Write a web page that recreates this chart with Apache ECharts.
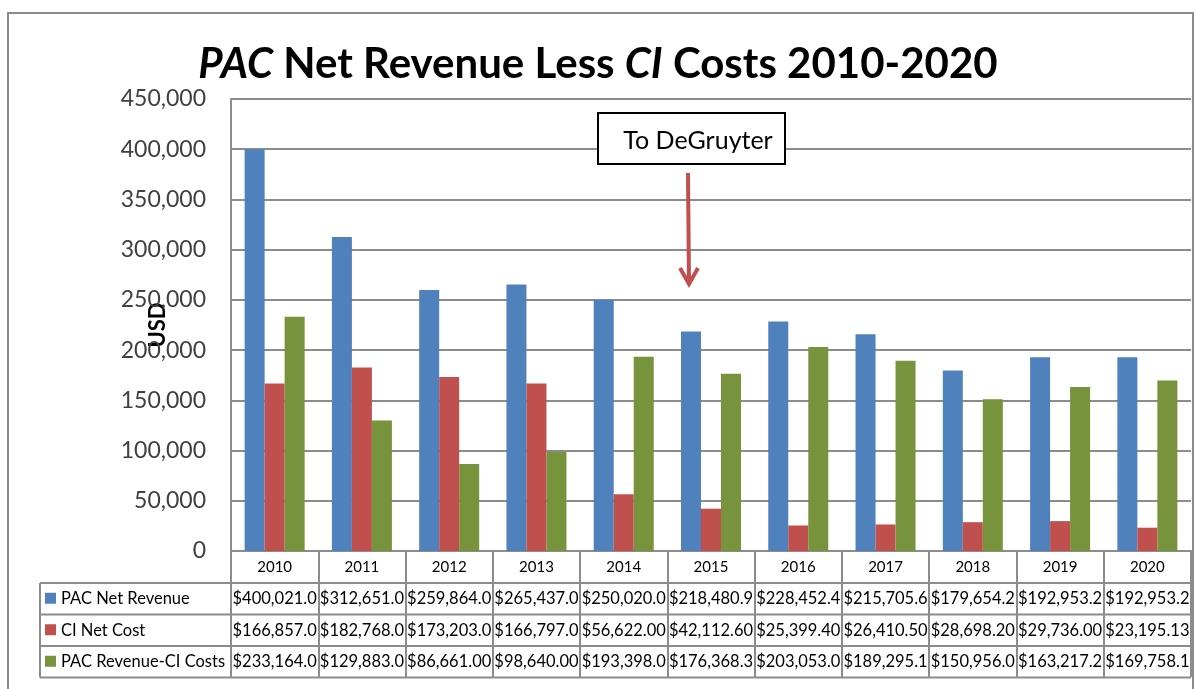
<!DOCTYPE html>
<html>
<head>
<meta charset="utf-8">
<script src="https://cdn.jsdelivr.net/npm/echarts@6/dist/echarts.min.js"></script>
<style>
  html, body { margin: 0; padding: 0; background: #fff; }
  #main { width: 1196px; height: 689px; }
</style>
</head>
<body>
<div id="main"></div>
<script>
const years = ['2010', '2011', '2012', '2013', '2014', '2015', '2016', '2017', '2018', '2019', '2020'];
const seriesNames = ['PAC Net Revenue', 'CI Net Cost', 'PAC Revenue-CI Costs'];
const pacRevenue = [400021.0, 312651.0, 259864.0, 265437.0, 250020.0, 218480.9, 228452.4, 215705.6, 179654.2, 192953.2, 192953.2];
const ciCost = [166857.0, 182768.0, 173203.0, 166797.0, 56622.00, 42112.60, 25399.40, 26410.50, 28698.20, 29736.00, 23195.13];
const pacLessCi = [233164.0, 129883.0, 86661.00, 98640.00, 193398.0, 176368.3, 203053.0, 189295.1, 150956.0, 163217.2, 169758.1];
const yTicks = [0, 50000, 100000, 150000, 200000, 250000, 300000, 350000, 400000, 450000];

const colors = ['#4f81bd', '#c0504d', '#77933c'];
const lineColor = '#8c8c8c';
const font = 'Lato';

// cell text like the spreadsheet: two decimals, clipped to the cell width
function cellText (v) {
  return ('$' + v.toLocaleString('en-US', {minimumFractionDigits: 2, maximumFractionDigits: 2})).slice(0, 10)
}

const chart = echarts.init(document.getElementById('main'));

const option = {
  animation: false,
  color: colors,
  title: {
    text: '{i|PAC} Net Revenue Less {i|CI} Costs 2010-2020',
    left: 'center',
    top: 38,
    textStyle: {
      fontFamily: font,
      fontSize: 42,
      fontWeight: 'bold',
      color: '#000',
      rich: {
        i: { fontFamily: font, fontSize: 42, fontWeight: 'bold', fontStyle: 'italic', color: '#000' }
      }
    }
  },
  grid: { left: 231, right: 5, top: 99, bottom: 138 },
  xAxis: {
    type: 'category',
    data: years,
    axisLine: { lineStyle: { color: lineColor, width: 2 } },
    axisTick: { show: true, length: 126, lineStyle: { color: lineColor, width: 2 } },
    axisLabel: { fontFamily: font, fontSize: 15, color: '#000', margin: 9 }
  },
  yAxis: {
    type: 'value',
    min: 0,
    max: yTicks[yTicks.length - 1],
    interval: yTicks[1] - yTicks[0],
    name: 'USD',
    nameLocation: 'middle',
    nameGap: 62,
    nameMoveOverlap: false,
    nameTextStyle: { fontFamily: font, fontSize: 22, fontWeight: 'bold', color: '#000' },
    axisLine: { show: true, lineStyle: { color: lineColor, width: 2 } },
    axisTick: { show: false },
    splitLine: { lineStyle: { color: lineColor, width: 2 } },
    axisLabel: {
      fontFamily: font, fontSize: 23, color: '#404040', margin: 25,
      formatter: v => v.toLocaleString('en-US')
    }
  },
  series: [pacRevenue, ciCost, pacLessCi].map((d, i) => ({
    name: seriesNames[i],
    type: 'bar',
    data: d,
    barWidth: 20,
    barGap: '0%',
    itemStyle: { color: colors[i] }
  }))
};

chart.setOption(option);

// data table under the plot, built from the axis positions
const zeroY = chart.convertToPixel({yAxisIndex: 0}, 0);
const plotRight = 1196 - 5;
const tableLeft = 40;
const headerH = 32;
const rowH = 31.5;
const graphics = [];

graphics.push({
  type: 'rect', shape: {x: 8, y: 13, width: 1185, height: 700},
  style: {fill: null, stroke: lineColor, lineWidth: 2}, silent: true
});

for (let r = 0; r <= 3; r++) {
  const y = zeroY + headerH + r * rowH;
  graphics.push({
    type: 'line', shape: {x1: tableLeft, y1: y, x2: plotRight, y2: y},
    style: {stroke: lineColor, lineWidth: 2}
  });
}
graphics.push({
  type: 'line', shape: {x1: tableLeft, y1: zeroY + headerH, x2: tableLeft, y2: zeroY + headerH + 3 * rowH},
  style: {stroke: lineColor, lineWidth: 2}
});

[pacRevenue, ciCost, pacLessCi].forEach((d, r) => {
  const cy = zeroY + headerH + r * rowH + rowH / 2;
  graphics.push({
    type: 'rect', shape: {x: 45, y: cy - 6, width: 11, height: 11},
    style: {fill: colors[r]}
  });
  graphics.push({
    type: 'text', x: 61, y: cy,
    style: {text: seriesNames[r], fontFamily: font, fontSize: 16.5, fill: '#000', verticalAlign: 'middle'}
  });
  d.forEach((v, c) => {
    const cx = chart.convertToPixel({xAxisIndex: 0}, years[c]);
    graphics.push({
      type: 'text', x: cx, y: cy,
      style: {text: cellText(v), fontFamily: font, fontSize: 16.5, fill: '#000', align: 'center', verticalAlign: 'middle'}
    });
  });
});

// "To DeGruyter" callout with arrow
graphics.push({
  type: 'rect', shape: {x: 598, y: 113, width: 187, height: 51},
  style: {fill: '#fff', stroke: '#000', lineWidth: 2}
});
graphics.push({
  type: 'text', x: 698, y: 141,
  style: {text: 'To DeGruyter', fontFamily: font, fontSize: 25, fill: '#000', align: 'center', verticalAlign: 'middle'}
});
graphics.push({
  type: 'line', shape: {x1: 688, y1: 173, x2: 689, y2: 283},
  style: {stroke: '#c0504d', lineWidth: 4}
});
graphics.push({
  type: 'polyline', shape: {points: [[680, 268], [689, 284], [698, 268]]},
  style: {stroke: '#c0504d', lineWidth: 4, fill: null}
});

chart.setOption({graphic: graphics});
</script>
</body>
</html>
